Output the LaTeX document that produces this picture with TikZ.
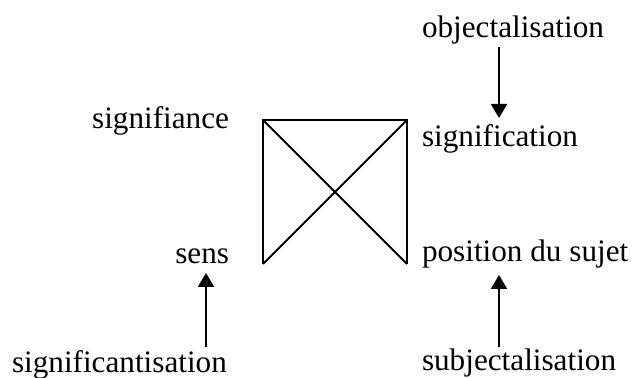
\documentclass[tikz,border=0pt]{standalone}
\usepackage{fontspec}
\setmainfont{Liberation Serif}
\usetikzlibrary{arrows.meta}

\begin{document}
\begin{tikzpicture}[
  x=0.5pt,y=-0.5pt,
  line width=1pt,
  every node/.style={font=\fontsize{15.6}{18}\selectfont,inner sep=0pt},
  term/.style={anchor=base west},
  termleft/.style={anchor=base east},
  flow/.style={-{Triangle[width=8pt,length=7pt]}},
]
\useasboundingbox (0,0) rectangle (635,378);
% open square with diagonals
\coordinate (tl) at (263,120);
\coordinate (tr) at (407,120);
\coordinate (bl) at (263,264);
\coordinate (br) at (407,264);
\draw (bl) -- (tl) -- (tr) -- (br);
\draw (tl) -- (br);
\draw (tr) -- (bl);
% terms
\node[termleft] (signifiance) at (230,129) {signifiance};
\node[term] (signification) at (421,147) {signification};
\node[termleft] (sens) at (230,264) {sens};
\node[term] (position) at (421,262) {position du sujet};
\node[term] (objectal) at (421,38) {objectalisation};
\node[term] (signifiant) at (11,372) {significantisation};
\node[term] (subjectal) at (421,370) {subjectalisation};
% arrows
\coordinate (a1) at (499,47);
\coordinate (b1) at (499,118);
\coordinate (a2) at (206,347);
\coordinate (b2) at (206,273);
\coordinate (a3) at (499,347);
\coordinate (b3) at (499,275);
\draw[flow] (a1) -- (b1);
\draw[flow] (a2) -- (b2);
\draw[flow] (a3) -- (b3);
\end{tikzpicture}
\end{document}
